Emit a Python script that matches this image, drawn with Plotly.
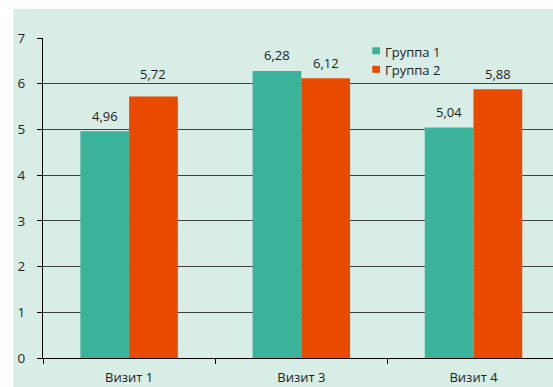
import plotly.graph_objects as go

# ---- data ----
categories = ["Визит 1", "Визит 3", "Визит 4"]
series_names = ["Группа 1", "Группа 2"]
group1 = [4.96, 6.28, 5.04]
group2 = [5.72, 6.12, 5.88]
y_ticks = [0, 1, 2, 3, 4, 5, 6, 7]

series_values = [group1, group2]
colors = ["#3AB39A", "#E94A00"]

# ---- layout constants ----
W, H = 553, 387
ML, MR, MT, MB = 43, 0, 38, 29
PW, PH = W - ML - MR, H - MT - MB
BARGAP = 0.434
FONT = "Open Sans"
TXT = "#1e1e1e"


def px_x(px):
    return (px - ML) / PW


def px_y(py):
    return (H - MB - py) / PH


xs = list(range(len(categories)))
fig = go.Figure()
for name, vals, col in zip(series_names, series_values, colors):
    fig.add_trace(go.Bar(x=xs, y=vals, name=name, marker_color=col,
                         marker_line_width=0, showlegend=False))

# value labels above bars
bw = (1 - BARGAP) / len(series_names)
nudge = {(1, 0): 7.5}  # one label sits a bit higher in the original
for g, vals in enumerate(series_values):
    for i, v in enumerate(vals):
        fig.add_annotation(
            x=i + (g - (len(series_names) - 1) / 2) * bw, y=v,
            text=f"{v:.2f}".replace(".", ","), showarrow=False,
            yanchor="middle", yshift=15.5 + nudge.get((g, i), 0),
            font=dict(family=FONT, size=13, color=TXT))

# custom legend
for g, (name, col) in enumerate(zip(series_names, colors)):
    cy = 50.8 + 18.5 * g
    fig.add_shape(type="rect", xref="paper", yref="paper",
                  x0=px_x(372.3), x1=px_x(380), y0=px_y(cy - 3.5), y1=px_y(cy + 3.5),
                  fillcolor=col, line_width=0)
    fig.add_annotation(xref="paper", yref="paper", x=px_x(383), y=px_y(cy + 0.7),
                       xanchor="left", yanchor="middle", showarrow=False, text=name,
                       font=dict(family=FONT, size=13, color=TXT))

# mint chart-area background
fig.add_shape(type="rect", xref="paper", yref="paper", layer="below",
              x0=px_x(13.3), x1=px_x(W + 5), y0=px_y(H + 5), y1=px_y(9),
              fillcolor="#D8EDE5", line_width=0)

fig.update_layout(
    width=W, height=H,
    margin=dict(l=ML, r=MR, t=MT, b=MB, pad=0, autoexpand=False),
    paper_bgcolor="white", plot_bgcolor="rgba(0,0,0,0)",
    barmode="group", bargap=BARGAP, bargroupgap=0,
    font=dict(family=FONT, size=13, color=TXT),
    showlegend=False,
)
fig.update_xaxes(
    range=[-0.5, (W - ML - MR) / 172.2 - 0.5],
    tickvals=xs, ticktext=categories, ticks="", showgrid=False,
    showline=True, linecolor="black", linewidth=1, automargin=False,
    ticklabelstandoff=7, tickfont=dict(family=FONT, size=13, color=TXT),
    minor=dict(tickvals=[-0.5, 0.5, 1.5, 2.5], ticks="outside", ticklen=5,
               tickcolor="black", showgrid=False),
    zeroline=False, fixedrange=True,
)
fig.update_yaxes(
    range=[0, 7], tickvals=y_ticks, ticks="outside", ticklen=5, tickcolor="black",
    showline=True, linecolor="black", linewidth=1, automargin=False,
    showgrid=True, gridcolor="#404040", gridwidth=1, zeroline=False,
    ticklabelstandoff=9, tickfont=dict(family=FONT, size=13.5, color=TXT),
    fixedrange=True,
)

fig.write_html("out.html", config=dict(displayModeBar=False))
